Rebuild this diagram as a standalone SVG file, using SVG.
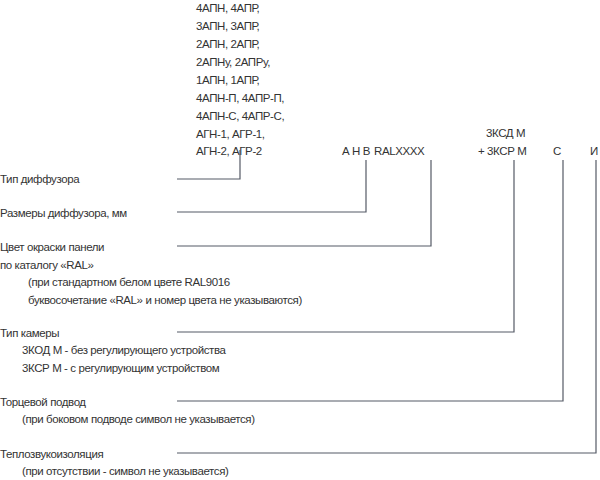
<svg xmlns="http://www.w3.org/2000/svg" width="600" height="480" viewBox="0 0 600 480">
<style>
text{font-family:"Liberation Sans",Arial,sans-serif;font-size:11.5px;letter-spacing:-0.4px;fill:#333}
.c{fill:none;stroke:#555a66;stroke-width:1.2}
</style>
<rect width="600" height="480" fill="#fff"/>
<g id="codes">
<text x="196" y="12">4АПН, 4АПР,</text>
<text x="196" y="30">3АПН, 3АПР,</text>
<text x="196" y="48">2АПН, 2АПР,</text>
<text x="196" y="66">2АПНу, 2АПРу,</text>
<text x="196" y="84">1АПН, 1АПР,</text>
<text x="196" y="102">4АПН-П, 4АПР-П,</text>
<text x="196" y="120">4АПН-С, 4АПР-С,</text>
<text x="196" y="138">АГН-1, АГР-1,</text>
<text x="196" y="155">АГН-2, АГР-2</text>
<text x="342" y="155">А Н В</text>
<text x="374" y="155">RALXXXX</text>
<text x="486" y="137">3КСД М</text>
<text x="478" y="155">+ 3КСР М</text>
<text x="553" y="155">С</text>
<text x="590" y="155">И</text>
</g>
<g id="connectors">
<polyline class="c" points="177,179 240,179 240,150"/>
<polyline class="c" points="177,212 366,212 366,160"/>
<polyline class="c" points="177,246 431,246 431,160"/>
<polyline class="c" points="177,332 514,332 514,160"/>
<polyline class="c" points="177,401 563,401 563,160"/>
<polyline class="c" points="177,453 596,453 596,160"/>
</g>
<g id="labels">
<text x="0" y="183">Тип диффузора</text>
<text x="0" y="217">Размеры диффузора, мм</text>
<text x="0" y="251">Цвет окраски панели</text>
<text x="0" y="269">по каталогу «RAL»</text>
<text x="28" y="286">(при стандартном белом цвете RAL9016</text>
<text x="28" y="304">буквосочетание «RAL» и номер цвета не указываются)</text>
<text x="0" y="337">Тип камеры</text>
<text x="22" y="354">3КОД М - без регулирующего устройства</text>
<text x="22" y="372">3КСР М - с регулирующим устройством</text>
<text x="0" y="406">Торцевой подвод</text>
<text x="22" y="423">(при боковом подводе символ не указывается)</text>
<text x="0" y="458">Теплозвукоизоляция</text>
<text x="22" y="475">(при отсутствии - символ не указывается)</text>
</g>
</svg>
